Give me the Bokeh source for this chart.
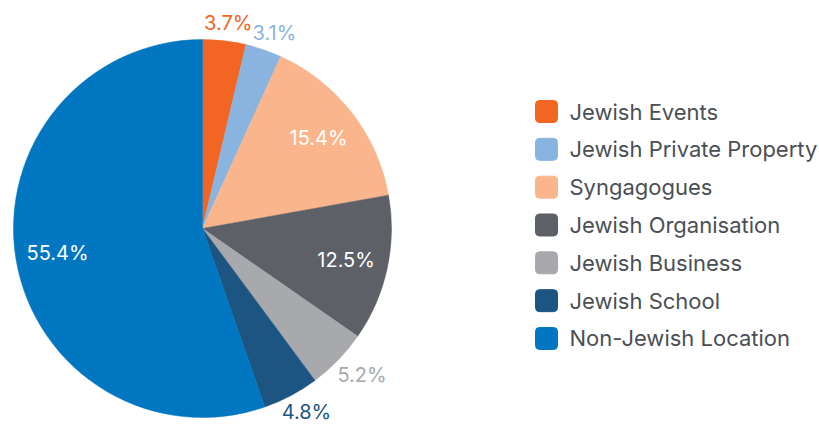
import math
from bokeh.plotting import figure
from bokeh.models import Range1d, ColumnDataSource
from bokeh.core.properties import value
from bokeh.embed import file_html
from bokeh.resources import INLINE

categories = ["Jewish Events", "Jewish Private Property", "Syngagogues",
              "Jewish Organisation", "Jewish Business", "Jewish School",
              "Non-Jewish Location"]
values = [3.7, 3.1, 15.4, 12.5, 5.2, 4.8, 55.4]
labels = ["3.7%", "3.1%", "15.4%", "12.5%", "5.2%", "4.8%", "55.4%"]
colors = ["#f26522", "#8ab4e0", "#fbb58c", "#5d6066", "#a7a9ac", "#1c5582", "#0077c0"]

W, H = 819, 426
cx, cy, R = 202, 426 - 228, 189
FONT = "Inter"

p = figure(width=W, height=H, output_backend="svg", toolbar_location=None,
           x_range=Range1d(0, W), y_range=Range1d(0, H), min_border=0)
p.axis.visible = False
p.grid.visible = False
p.outline_line_color = None
p.background_fill_color = "white"

total = sum(values)
starts, ends, mids = [], [], []
cum = 0.0
for v in values:
    a0 = math.pi / 2 - 2 * math.pi * (cum + v) / total
    a1 = math.pi / 2 - 2 * math.pi * cum / total
    starts.append(a0)
    ends.append(a1)
    mids.append((a0 + a1) / 2)
    cum += v

src = ColumnDataSource(dict(start=starts, end=ends, color=colors))
p.wedge(x=cx, y=cy, radius=R, start_angle="start", end_angle="end",
        fill_color="color", line_color="color", line_width=0.5, source=src)

# labels
lx, ly, lt = [], [], []
ox, oy, oc, ot = [], [], [], []
for v, m, c, t in zip(values, mids, colors, labels):
    if v >= 10:
        r = 147
        lx.append(cx + r * math.cos(m)); ly.append(cy + r * math.sin(m)); lt.append(t)
    else:
        w, h = 11.5 * len(t), 15
        r = 197
        px = cx + r * math.cos(m) + math.cos(m) * w * 0.55
        py = cy + r * math.sin(m) + math.copysign(h / 2 + 2, math.sin(m))
        ox.append(px); oy.append(py); oc.append(c); ot.append(t)

p.text(x=lx, y=ly, text=lt, text_color="white", text_font=value(FONT),
       text_font_size="20px", text_align="center", text_baseline="middle")
p.text(x=ox, y=oy, text=ot, text_color=oc, text_font=value(FONT),
       text_font_size="20px", text_align="center", text_baseline="middle")

# legend
ys = [H - (111 + 37.83 * i) for i in range(len(categories))]
p.rect(x=[546] * len(categories), y=ys, width=22, height=22, border_radius=4,
       fill_color=colors, line_color=colors)
p.text(x=[569] * len(categories), y=ys, text=categories, text_color="#4a4f55",
       text_font=value(FONT), text_font_size="22px", text_align="left",
       text_baseline="middle")

open("out.html", "w").write(file_html(p, INLINE))
